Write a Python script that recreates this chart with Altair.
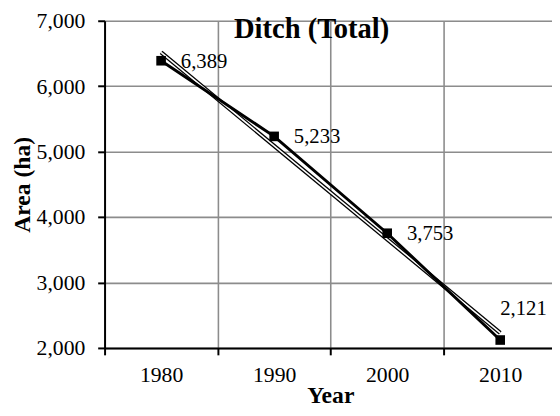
import altair as alt
import pandas as pd

years = [1980, 1990, 2000, 2010]
area = [6389, 5233, 3753, 2121]

df = pd.DataFrame({"Year": years, "Area": area})

FONT = "Liberation Serif"
PX_PER_YEAR = 11.47

x_enc = alt.X(
    "Year:Q",
    scale=alt.Scale(domain=[1975, 2014.58], nice=False, zero=False),
    axis=alt.Axis(
        values=[1975, 1985, 1995, 2005],
        labelExpr="datum.value < 2010 ? format(datum.value + 5, 'd') : ''",
        labelOffset=5 * PX_PER_YEAR,
        labelFlush=False,
        labelFont=FONT,
        labelFontSize=22,
        labelColor="black",
        labelBaseline="top",
        labelPadding=10,
        tickSize=7,
        tickColor="black",
        tickWidth=2,
        domainColor="black",
        domainWidth=2,
        grid=True,
        gridColor="#8c8c8c",
        gridWidth=1.6,
        title="Year",
        titleFont=FONT,
        titleFontSize=24,
        titleFontWeight="bold",
        titleColor="black",
        titleX=229,
        titleY=55,
        titleBaseline="alphabetic",
        titleAlign="center",
    ),
)

y_enc = alt.Y(
    "Area:Q",
    scale=alt.Scale(domain=[2000, 7000], nice=False, zero=False),
    axis=alt.Axis(
        values=[2000, 3000, 4000, 5000, 6000, 7000],
        format=",d",
        labelFont=FONT,
        labelFontSize=22,
        labelColor="black",
        labelPadding=13,
        tickSize=7,
        tickColor="black",
        tickWidth=2,
        domainColor="black",
        domainWidth=2,
        grid=True,
        gridColor="#8c8c8c",
        gridWidth=1.6,
        title="Area (ha)",
        titleFont=FONT,
        titleFontSize=24,
        titleFontWeight="bold",
        titleColor="black",
        titleX=-76,
        titleY=166,
        titleAngle=270,
        titleBaseline="alphabetic",
        titleAlign="center",
    ),
)

base = alt.Chart(df)

trend_outer = base.transform_regression("Year", "Area", method="linear").mark_line(
    color="black", strokeWidth=4.2
).encode(x=x_enc, y=y_enc)

trend_inner = base.transform_regression("Year", "Area", method="linear").mark_line(
    color="white", strokeWidth=1.6
).encode(x=x_enc, y=y_enc)

data_line = base.mark_line(color="black", strokeWidth=3).encode(x=x_enc, y=y_enc)

points = base.mark_square(color="black", size=95, opacity=1).encode(x=x_enc, y=y_enc)

labels_right = base.transform_filter("datum.Year < 2010").mark_text(
    align="left", baseline="middle", dx=20, dy=1, font=FONT, fontSize=21, color="black"
).encode(x=x_enc, y=y_enc, text=alt.Text("Area:Q", format=","))

labels_above = base.transform_filter("datum.Year >= 2010").mark_text(
    align="left", baseline="middle", dx=0, dy=-31, font=FONT, fontSize=21, color="black"
).encode(x=x_enc, y=y_enc, text=alt.Text("Area:Q", format=","))

chart = alt.layer(
    trend_outer, trend_inner, data_line, points, labels_right, labels_above
).properties(
    width=454,
    height=332,
    title=alt.TitleParams(
        "Ditch (Total)",
        font=FONT,
        fontSize=29,
        fontWeight="bold",
        color="black",
        anchor="middle",
        frame="group",
        dx=-17,
        dy=35,
        offset=0,
    ),
    autosize=alt.AutoSizeParams(type="none"),
    padding={"left": 98, "top": 10, "right": 0, "bottom": 58},
).configure_view(strokeWidth=0).configure(background="white")

chart.save("out.html", embed_options={"renderer": "svg", "actions": False})
